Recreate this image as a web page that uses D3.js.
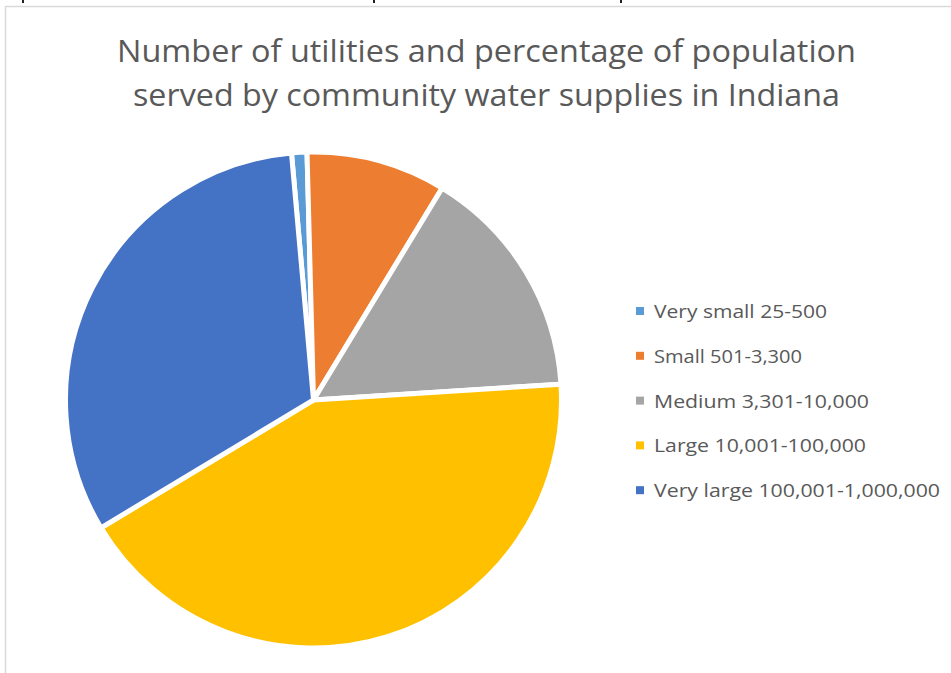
<!DOCTYPE html>
<html>
<head>
<meta charset="utf-8">
<script src="https://cdn.jsdelivr.net/npm/d3@7"></script>
<style>
  html, body { margin: 0; padding: 0; background: #fff; }
  svg { display: block; }
</style>
</head>
<body>
<svg id="chart" width="951" height="673"></svg>
<script>
// ---- data ----
const categories = ["Very small 25-500", "Small 501-3,300", "Medium 3,301-10,000", "Large 10,001-100,000", "Very large 100,001-1,000,000"];
const values = [1.0, 9.1, 15.3, 42.4, 32.2];
const colors = ["#5B9BD5", "#ED7D31", "#A5A5A5", "#FFC000", "#4472C4"];
const titleLines = ["Number of utilities and percentage of population", "served by community water supplies in Indiana"];

const svg = d3.select("#chart");
const W = 951, H = 673;

// chart area border
svg.append("rect").attr("x", 5.5).attr("y", 6.5).attr("width", W + 10).attr("height", H + 10)
  .attr("fill", "#fff").attr("stroke", "#D9D9D9").attr("stroke-width", 1.5);

// tiny clipped text fragments at the very top
[22, 373, 620].forEach(x => svg.append("rect").attr("x", x).attr("y", 0).attr("width", 2).attr("height", 3).attr("fill", "#222"));

// title
const titleWidths = [739, 707];
svg.append("g").selectAll("text").data(titleLines).join("text")
  .attr("x", (d, i) => i === 0 ? 117 : 133)
  .attr("y", (d, i) => 62 + i * 44)
  .attr("textLength", (d, i) => titleWidths[i])
  .attr("lengthAdjust", "spacingAndGlyphs")
  .attr("font-family", "'Open Sans', 'Noto Sans', sans-serif")
  .attr("font-size", 31)
  .attr("fill", "#595959")
  .text(d => d);

// pie
const cx = 313.5, cy = 400, r = 248;
const startDeg = -5.1;
const pie = d3.pie().sort(null).value(d => d)
  .startAngle(startDeg * Math.PI / 180)
  .endAngle((startDeg + 360) * Math.PI / 180);
const arc = d3.arc().innerRadius(0).outerRadius(r);
const g = svg.append("g").attr("transform", `translate(${cx},${cy})`);
g.selectAll("path").data(pie(values)).join("path")
  .attr("d", arc)
  .attr("fill", (d, i) => colors[i])
  .attr("stroke", "#fff")
  .attr("stroke-width", 5)
  .attr("stroke-linejoin", "miter");

// legend
const legendX = 636, legendY0 = 318, legendStep = 44.8;
const legendWidths = [173, 148, 215, 212, 286];
const lg = svg.append("g");
const items = lg.selectAll("g").data(categories).join("g")
  .attr("transform", (d, i) => `translate(${legendX},${legendY0 + i * legendStep})`);
items.append("rect").attr("x", 0).attr("y", -11).attr("width", 8).attr("height", 8)
  .attr("fill", (d, i) => colors[i]);
items.append("text").attr("x", 18).attr("y", 0)
  .attr("textLength", (d, i) => legendWidths[i])
  .attr("lengthAdjust", "spacingAndGlyphs")
  .attr("font-family", "'Open Sans', 'Noto Sans', sans-serif")
  .attr("font-size", 18)
  .attr("fill", "#595959")
  .text(d => d);
</script>
</body>
</html>
